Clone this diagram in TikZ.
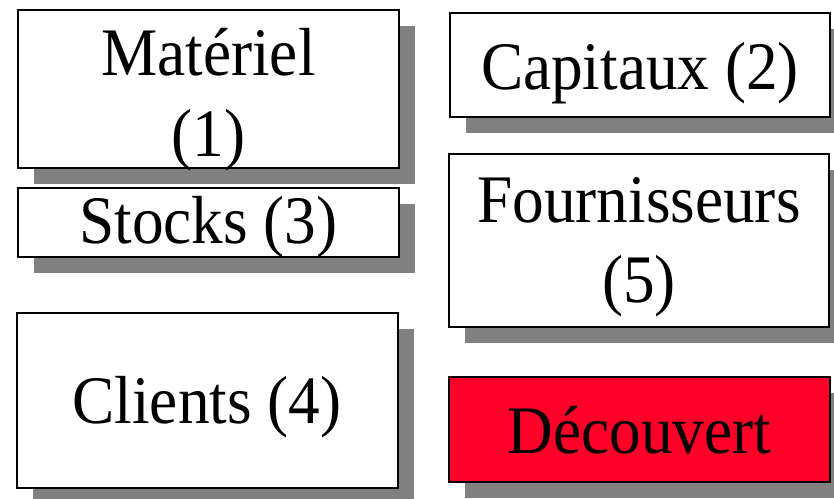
\documentclass[tikz,border=0pt]{standalone}
\usepackage{fontspec}
\setmainfont{Liberation Serif}
\usetikzlibrary{shadows}
\definecolor{shadowgray}{RGB}{128,128,128}
\definecolor{alertred}{RGB}{255,0,40}
\newcommand{\narrowtxt}[1]{\scalebox{0.93}[1]{#1}}
\begin{document}
\begin{tikzpicture}[x=1pt,y=-1pt,
  box/.style={draw=black, line width=2.2pt, fill=white, inner sep=0pt,
    drop shadow={shadow xshift=16pt, shadow yshift=-16pt, fill=shadowgray, opacity=1}},
  lbl/.style={anchor=base, inner sep=0pt, font=\fontsize{68}{81}\selectfont}]
\useasboundingbox (0,0) rectangle (834,498);
\clip (0,0) rectangle (834,498);
% boxes
\node[box, minimum width=381pt, minimum height=158pt] (mat) at (208.5,89) {};
\node[box, minimum width=381pt, minimum height=69pt] (sto) at (208.5,222.5) {};
\node[box, minimum width=381pt, minimum height=175pt] (cli) at (207.5,400.5) {};
\node[box, minimum width=380pt, minimum height=104pt] (cap) at (640,65) {};
\node[box, minimum width=380pt, minimum height=173pt] (fou) at (639,240.5) {};
\node[box, fill=alertred, minimum width=381pt, minimum height=105pt] (dec) at (639.5,429.5) {};
% labels
\node[lbl] (matA) at (208.5,75) {\narrowtxt{Matériel}};
\node[lbl] (matB) at (208.5,156.5) {\narrowtxt{(1)}};
\node[lbl] (stoA) at (208.5,243) {\narrowtxt{Stocks (3)}};
\node[lbl] (cliA) at (207,423) {\narrowtxt{Clients (4)}};
\node[lbl] (capA) at (640,89) {\narrowtxt{Capitaux (2)}};
\node[lbl] (fouA) at (639,222) {\narrowtxt{Fournisseurs}};
\node[lbl] (fouB) at (639,302.5) {\narrowtxt{(5)}};
\node[lbl] (decA) at (639.5,453) {\narrowtxt{Découvert}};
\end{tikzpicture}
\end{document}
